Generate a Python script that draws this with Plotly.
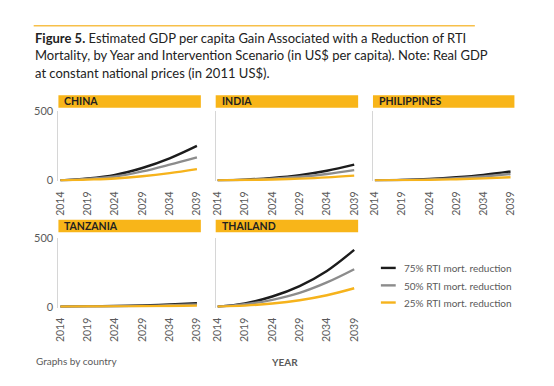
import plotly.graph_objects as go

W, H = 554, 386

years = [2014, 2019, 2024, 2029, 2034, 2039]
countries = ["CHINA", "INDIA", "PHILIPPINES", "TANZANIA", "THAILAND"]
scenarios = ["75% RTI mort. reduction", "50% RTI mort. reduction", "25% RTI mort. reduction"]

china_75 = [0, 14, 40, 90, 160, 250]
china_50 = [0, 11, 28, 65, 114, 167]
china_25 = [0, 6, 14, 30, 53, 82]

india_75 = [0, 6, 18, 38, 70, 114]
india_50 = [0, 5, 13, 27, 47, 75]
india_25 = [0, 3, 7, 13, 22, 35]

philippines_75 = [0, 4, 11, 23, 40, 65]
philippines_50 = [0, 3, 8, 17, 29, 47]
philippines_25 = [0, 2, 4, 9, 15, 23]

tanzania_75 = [0, 2, 5, 9, 16, 25]
tanzania_50 = [0, 1, 3, 6, 10, 16]
tanzania_25 = [0, 1, 2, 3, 5, 8]

thailand_75 = [0, 24, 74, 150, 260, 413]
thailand_50 = [0, 18, 50, 100, 176, 272]
thailand_25 = [0, 8, 23, 47, 83, 134]

series = {
    "CHINA": [china_75, china_50, china_25],
    "INDIA": [india_75, india_50, india_25],
    "PHILIPPINES": [philippines_75, philippines_50, philippines_25],
    "TANZANIA": [tanzania_75, tanzania_50, tanzania_25],
    "THAILAND": [thailand_75, thailand_50, thailand_25],
}

colors = ["#1c1c1c", "#8c8c8c", "#F6B31C"]
YELLOW = "#F8B519"
GRAYTXT = "#5a5a5a"
FONT = "Lato"


def X(px):
    return px / W


def Y(py):
    return 1 - py / H


cols = [(54, 198), (213, 357), (372, 515)]
# (top of plot at value 500, y of value 0)
rows = [(107.7, 179.0), (238.3, 309.3)]
ymin = -6
positions = {
    "CHINA": (0, 0), "INDIA": (0, 1), "PHILIPPINES": (0, 2),
    "TANZANIA": (1, 0), "THAILAND": (1, 1),
}
headers = [(91, 104), (219.5, 232.5)]

fig = go.Figure()
shapes = []
annotations = []

for i, c in enumerate(countries):
    r, k = positions[c]
    idx = "" if i == 0 else str(i + 1)
    xa, ya = "x" + idx, "y" + idx
    top, zero = rows[r]
    bottom = zero + (-ymin) * (zero - top) / 500
    x0, x1 = cols[k]
    for s, vals in enumerate(series[c]):
        fig.add_trace(go.Scatter(
            x=years, y=vals, mode="lines", name=scenarios[s],
            line=dict(color=colors[s], width=2.4, shape="spline"),
            xaxis=xa, yaxis=ya, showlegend=False, hoverinfo="skip",
        ))
    fig.layout["xaxis" + idx] = dict(
        domain=[X(x0), X(x1)], anchor=ya, range=[2013.64, 2039.72],
        tickvals=years, ticktext=[str(v) for v in years], tickangle=-90,
        tickfont=dict(family=FONT, size=10.5, color=GRAYTXT),
        showgrid=False, zeroline=False, showline=False,
        ticks="outside", ticklen=5, tickcolor="rgba(0,0,0,0)",
    )
    fig.layout["yaxis" + idx] = dict(
        domain=[Y(bottom), Y(top)], anchor=xa, range=[ymin, 500],
        tickvals=[0, 500], showticklabels=(k == 0),
        tickfont=dict(family=FONT, size=11, color=GRAYTXT),
        showgrid=True, gridcolor="#dedede", gridwidth=1,
        zeroline=False, showline=True, linecolor="#d6d6d6", linewidth=1,
        ticks="", ticklabelstandoff=2,
    )
    hy0, hy1 = headers[r]
    shapes.append(dict(type="rect", xref="paper", yref="paper",
                       x0=X(x0), x1=X(x1), y0=Y(hy1), y1=Y(hy0),
                       fillcolor=YELLOW, line=dict(width=0), layer="below"))
    annotations.append(dict(text="<b>%s</b>" % c, xref="paper", yref="paper",
                            x=X(x0 + 4), y=Y((hy0 + hy1) / 2), xanchor="left",
                            yanchor="middle", showarrow=False,
                            font=dict(family=FONT, size=10.5, color="#231F20")))

# top rule
shapes.append(dict(type="line", xref="paper", yref="paper",
                   x0=X(29), x1=X(475), y0=Y(19.3), y1=Y(19.3),
                   line=dict(color="#F7C04A", width=1.5)))

title_lines = [
    "<b>Figure 5.</b> Estimated GDP per capita Gain Associated with a Reduction of RTI",
    "Mortality, by Year and Intervention Scenario (in US$ per capita). Note: Real GDP",
    "at constant national prices (in 2011 US$).",
]
for j, t in enumerate(title_lines):
    annotations.append(dict(text=t, xref="paper", yref="paper", x=X(28),
                            y=Y(31.5 + j * 18.5), xanchor="left", yanchor="middle",
                            showarrow=False,
                            font=dict(family=FONT, size=13, color="#222222")))

# legend (manual)
leg_y = [269.3, 287.3, 305.0]
for s in range(3):
    shapes.append(dict(type="line", xref="paper", yref="paper",
                       x0=X(380), x1=X(395), y0=Y(leg_y[s]), y1=Y(leg_y[s]),
                       line=dict(color=colors[s], width=2.4)))
    annotations.append(dict(text=scenarios[s], xref="paper", yref="paper",
                            x=X(401), y=Y(leg_y[s] + 0.5), xanchor="left", yanchor="middle",
                            showarrow=False,
                            font=dict(family=FONT, size=10, color=GRAYTXT)))

annotations.append(dict(text="Graphs by country", xref="paper", yref="paper",
                        x=X(29), y=Y(365), xanchor="left", yanchor="middle",
                        showarrow=False, font=dict(family=FONT, size=10, color=GRAYTXT)))
annotations.append(dict(text="<b>YEAR</b>", xref="paper", yref="paper",
                        x=X(283), y=Y(366), xanchor="center", yanchor="middle",
                        showarrow=False, font=dict(family=FONT, size=10, color=GRAYTXT)))

fig.update_layout(
    width=W, height=H, margin=dict(l=0, r=0, t=0, b=0),
    paper_bgcolor="white", plot_bgcolor="white",
    shapes=shapes, annotations=annotations, showlegend=False,
)

fig.write_html("out.html", config={"displayModeBar": False},
               post_script="document.body.style.margin='0';")
